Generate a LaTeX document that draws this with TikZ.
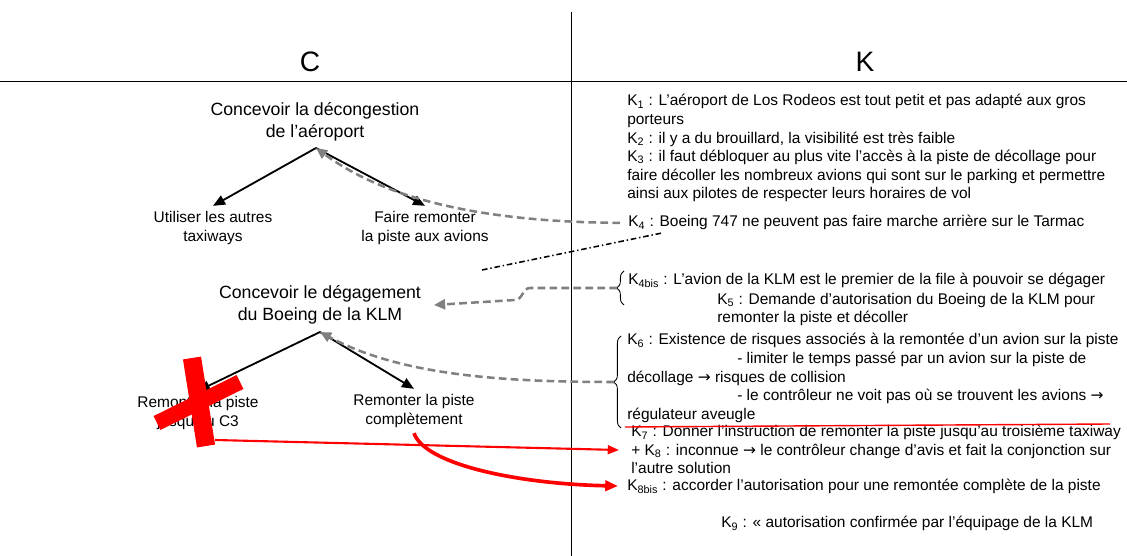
\documentclass[tikz,border=0pt]{standalone}
\usepackage{fontspec}
\setmainfont{Liberation Sans}
\newfontfamily\arrowfont{DejaVu Sans}
\usetikzlibrary{arrows.meta,decorations.pathreplacing}
\newcommand{\ksub}[1]{K\textsubscript{#1}}
\newcommand{\thenarrow}{{\arrowfont →}}

\begin{document}
\begin{tikzpicture}[x=0.025cm,y=-0.025cm,
    treearrow/.style={line width=1.3pt,-{Triangle[length=0.3cm,width=0.25cm]}},
    hintarrow/.style={gray,line width=1.8pt,dash pattern=on 5.5pt off 3pt,-{Triangle[length=0.28cm,width=0.25cm]}},
    redarrow/.style={red,-{Triangle[length=0.28cm,width=0.22cm]}},
    title/.style={align=center,font=\fontsize{12.6}{15.6}\selectfont},
    choice/.style={align=center,font=\fontsize{11}{14.2}\selectfont},
    ktext/.style={anchor=base west,align=left,inner sep=0pt,font=\fontsize{11}{13.2}\selectfont}]
    \useasboundingbox (0,0) rectangle (1127,556);

    % table frame
    \draw[line width=0.7pt] (571,12) -- (571,556);
    \draw[line width=0.7pt] (0,81) -- (1127,81);
    \node (colC) at (310,62) {\fontsize{20}{24}\selectfont C};
    \node (colK) at (865,62) {\fontsize{20}{24}\selectfont K};

    % first tree
    \node[title] (decong) at (315,122) {Concevoir la décongestion\\de l’aéroport};
    \coordinate (apex1) at (316,148);
    \node[choice] (autres) at (213,228) {Utiliser les autres\\taxiways};
    \node[choice] (remont) at (425,228) {Faire remonter\\la piste aux avions};
    \draw[treearrow] (apex1) -- (autres.north);
    \draw[treearrow] (apex1) -- (remont.north);

    % second tree
    \node[title] (dega) at (320,305) {Concevoir le dégagement\\du Boeing de la KLM};
    \coordinate (apex2) at (320,332);
    \node[choice] (jusqu) at (198,413) {Remonter la piste\\jusqu’au C3};
    \node[choice] (compl) at (414,411) {Remonter la piste\\complètement};
    \draw[treearrow] (apex2) -- (jusqu.north);
    \draw[treearrow] (apex2) -- (compl.north);

    \coordinate (dd1) at (482,270);
    \coordinate (dd2) at (662,233);
    \draw[line width=1.1pt,dash pattern=on 4pt off 2pt on 1pt off 2pt] (dd1) -- (dd2);

    % knowledge (base = last line)
    \node[ktext] (kA) at (627,198.8) {\ksub{1} : L’aéroport de Los Rodeos est tout petit et pas adapté aux gros\\porteurs\\\ksub{2} : il y a du brouillard, la visibilité est très faible\\\ksub{3} : il faut débloquer au plus vite l’accès à la piste de décollage pour\\faire décoller les nombreux avions qui sont sur le parking et permettre\\ainsi aux pilotes de respecter leurs horaires de vol};
    \node[ktext] (k4) at (628,227) {\ksub{4} : Boeing 747 ne peuvent pas faire marche arrière sur le Tarmac};
    \node[ktext] (k4bis) at (628,285) {\ksub{4bis} : L’avion de la KLM est le premier de la file à pouvoir se dégager};
    \node[ktext] (k5) at (717,322.6) {\ksub{5} : Demande d’autorisation du Boeing de la KLM pour\\remonter la piste et décoller};
    \node[ktext] (k6) at (627,419.2) {\ksub{6} : Existence de risques associés à la remontée d’un avion sur la piste\\\hspace*{2.75cm}- limiter le temps passé par un avion sur la piste de\\décollage \thenarrow{} risques de collision\\\hspace*{2.75cm}- le contrôleur ne voit pas où se trouvent les avions \thenarrow\\régulateur aveugle};
    \node[ktext] (k7) at (631,474) {\ksub{7} : Donner l’instruction de remonter la piste jusqu’au troisième taxiway\\+ \ksub{8} : inconnue \thenarrow{} le contrôleur change d’avis et fait la conjonction sur\\l’autre solution};
    \node[ktext] (k8bis) at (627,491) {\ksub{8bis} : accorder l’autorisation pour une remontée complète de la piste};
    \node[ktext] (k9) at (721,528) {\ksub{9} : « autorisation confirmée par l’équipage de la KLM};

    \draw[line width=0.6pt,decorate,decoration={brace,amplitude=0.18cm}] (624,305) -- (624,271);
    \coordinate (br4bis) at (617,288);
    \draw[line width=0.6pt,decorate,decoration={brace,amplitude=0.18cm}] (621,428) -- (621,336);
    \coordinate (br6) at (614,382);

    % links from knowledge to concepts
    \draw[hintarrow,shorten <=0.2cm] (k4.west) .. controls (470,222) and (380,195) .. (apex1);
    \draw[hintarrow] (br4bis) -- (530,288) to[out=180,in=0] (515,300) -- ([xshift=0.2cm]dega.east);
    \draw[hintarrow] (br6) .. controls (500,382) and (400,375) .. (apex2);

    % rejected choice
    \draw[red,line width=13pt] (192,358) -- (206,446);
    \draw[red,line width=11pt] (157,423) -- (240,382);
    \coordinate (xfoot) at (215,440);
    \coordinate (k8in) at (619,450);
    \draw[redarrow,line width=1.5pt] (xfoot) -- (k8in);
    \coordinate (k8bisin) at (618,486);
    \draw[red,line width=2.6pt,-{Triangle[length=0.32cm,width=0.26cm]}] (compl.south) .. controls (425,465) and (520,484) .. (k8bisin);
    \draw[red,line width=1pt] (625,427) -- (1110,424);
\end{tikzpicture}
\end{document}
